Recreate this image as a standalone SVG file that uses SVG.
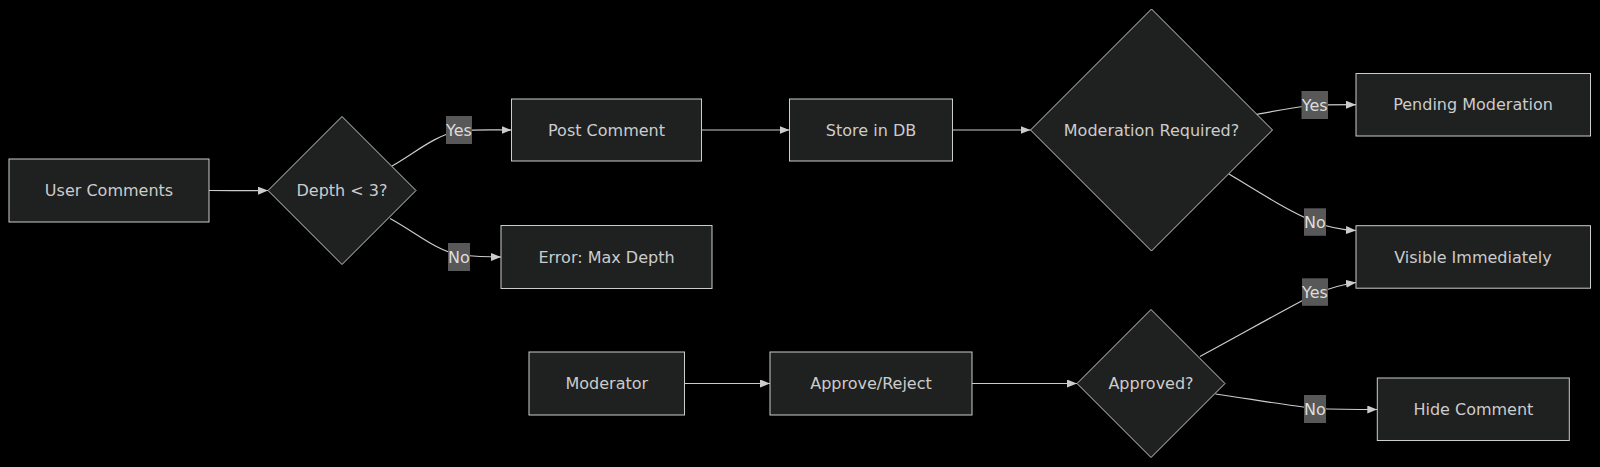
<svg xmlns="http://www.w3.org/2000/svg" width="1600" height="467" viewBox="0 0 1600 467">
<defs>
<style>
.node rect, .node polygon { fill: #1f2020; stroke: #cccccc; stroke-width: 1; }
.node text { fill: #cccccc; font-family: "DejaVu Sans", sans-serif; font-size: 16px; text-anchor: middle; dominant-baseline: central; }
.edge { fill: none; stroke: #cccccc; stroke-width: 1.2; marker-end: url(#arrow); }
.lbl rect { fill: #585858; }
.lbl text { fill: #dddddd; font-family: "DejaVu Sans", sans-serif; font-size: 16px; text-anchor: middle; dominant-baseline: central; }
</style>
<marker id="arrow" viewBox="0 0 10 8" refX="10" refY="4" markerWidth="10" markerHeight="8" markerUnits="userSpaceOnUse" orient="auto">
<path d="M0,0 L10,4 L0,8 z" fill="#cccccc"/>
</marker>
</defs>
<rect x="0" y="0" width="1600" height="467" fill="#000000"/>
<g id="connectors">
<path class="edge" d="M209,190.5 C235,190.5 250,190.8 268,190.5"/>
<path class="edge" d="M392,166 C415,153 435,135 459,131 C480,129 495,130 511.5,130"/>
<path class="edge" d="M390,218.5 C415,232 435,250 459,255 C480,257 492,257 501,257"/>
<path class="edge" d="M701.5,130 L789.5,130"/>
<path class="edge" d="M952.5,130 L1030.5,130"/>
<path class="edge" d="M1256,114.5 C1275,111 1295,107 1315,105 C1330,104.7 1345,104.7 1356,104.7"/>
<path class="edge" d="M1229,174 C1260,193 1290,212 1315,222 C1330,228 1345,230 1356,230.5"/>
<path class="edge" d="M684.5,383.5 L770,383.5"/>
<path class="edge" d="M972,383.5 C1010,383.5 1050,383.5 1077,383.5"/>
<path class="edge" d="M1200,356.5 C1240,335 1280,312 1315,294 C1330,288 1345,284 1356,282.5"/>
<path class="edge" d="M1215.5,394 C1250,399 1285,405 1315,408.5 C1340,409.5 1360,409.5 1377.3,409.5"/>
</g>
<g id="edge-labels">
<g class="lbl"><rect x="446" y="116" width="26" height="28"/><text x="459" y="130">Yes</text></g>
<g class="lbl"><rect x="448" y="243" width="22" height="28"/><text x="459" y="257">No</text></g>
<g class="lbl"><rect x="1301.5" y="91" width="26.5" height="28"/><text x="1314.7" y="105">Yes</text></g>
<g class="lbl"><rect x="1304" y="208.3" width="22" height="27.5"/><text x="1315" y="222">No</text></g>
<g class="lbl"><rect x="1302" y="278.3" width="26" height="27.5"/><text x="1315" y="292">Yes</text></g>
<g class="lbl"><rect x="1304" y="395" width="22" height="28"/><text x="1315" y="409">No</text></g>
</g>
<g id="user-comments" class="node"><rect x="9" y="159" width="200" height="63"/><text x="109" y="190.5">User Comments</text></g>
<g id="depth-check" class="node"><polygon points="342,116.5 416,190.5 342,264.5 268,190.5"/><text x="342" y="190.5">Depth &lt; 3?</text></g>
<g id="post-comment" class="node"><rect x="511.5" y="99" width="190" height="62"/><text x="606.5" y="130">Post Comment</text></g>
<g id="error-max-depth" class="node"><rect x="501" y="225.5" width="211" height="63"/><text x="606.5" y="257">Error: Max Depth</text></g>
<g id="store-db" class="node"><rect x="789.5" y="99" width="163" height="62"/><text x="871" y="130">Store in DB</text></g>
<g id="moderation-required" class="node"><polygon points="1151.5,9 1272.5,130 1151.5,251 1030.5,130"/><text x="1151.5" y="130">Moderation Required?</text></g>
<g id="pending-moderation" class="node"><rect x="1356" y="73.5" width="234.5" height="62.5"/><text x="1473" y="104.7">Pending Moderation</text></g>
<g id="visible-immediately" class="node"><rect x="1356" y="225.7" width="234.5" height="62.5"/><text x="1473" y="257">Visible Immediately</text></g>
<g id="moderator" class="node"><rect x="529" y="352" width="155.5" height="63"/><text x="606.8" y="383.5">Moderator</text></g>
<g id="approve-reject" class="node"><rect x="770" y="352" width="202" height="63"/><text x="871" y="383.5">Approve/Reject</text></g>
<g id="approved" class="node"><polygon points="1151,309.5 1225,383.5 1151,457.5 1077,383.5"/><text x="1151" y="383.5">Approved?</text></g>
<g id="hide-comment" class="node"><rect x="1377.3" y="378" width="192" height="62.5"/><text x="1473.4" y="409.2">Hide Comment</text></g>
</svg>
